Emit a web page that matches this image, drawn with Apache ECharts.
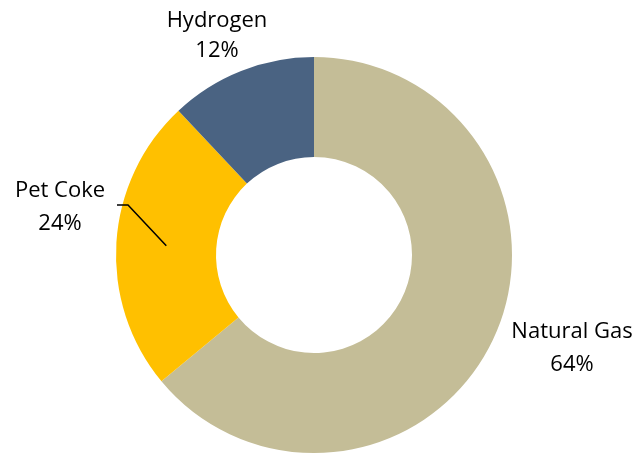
<!DOCTYPE html>
<html>
<head>
<meta charset="utf-8">
<script src="https://cdn.jsdelivr.net/npm/echarts@6/dist/echarts.min.js"></script>
<style>
	html, body { margin: 0; padding: 0; background: #fff; }
	#chart { width: 640px; height: 453px; }
</style>
</head>
<body>
<div id="chart"></div>
<script>
	// fuel mix
	var categories = ['Natural Gas', 'Pet Coke', 'Hydrogen']
	var values = [64, 24, 12]
	var colors = ['#C4BD97', '#FFC000', '#4A6382']

	// where each label sits (center of text block)
	var labelPos = [[572, 348], [60, 207], [217, 36]]

	var cx = 314, cy = 255, r0 = 98, r1 = 198

	var chart = echarts.init(document.getElementById('chart'))

	// mid point of a slice (clockwise from 12 o'clock), halfway through the ring
	function midPoint(idx) {
		var total = values.reduce(function (a, b) { return a + b }, 0)
		var before = 0
		for (var i = 0; i < idx; i++) before += values[i]
		var a = (before + values[idx] / 2) / total * Math.PI * 2
		var rr = (r0 + r1) / 2
		return [cx + Math.sin(a) * rr, cy - Math.cos(a) * rr]
	}

	var baseLabel = {
		show: true,
		position: 'outside',
		fontFamily: 'Open Sans',
		fontSize: 22,
		lineHeight: 33,
		color: '#000',
		align: 'center',
		overflow: 'none',
		width: 220
	}

	var option = {
		animation: false,
		series: [{
			type: 'pie',
			z: 2,
			center: [cx, cy],
			radius: [r0, r1],
			startAngle: 90,
			clockwise: true,
			data: categories.map(function (name, i) {
				return {
					name: name,
					value: values[i],
					itemStyle: { color: colors[i] },
					label: i === 2 ? { lineHeight: 30 } : {}
				}
			}),
			label: Object.assign({ formatter: '{b}\n{d}%' }, baseLabel),
			labelLine: { show: false },
			labelLayout: function (params) {
				var p = labelPos[params.dataIndex]
				return { x: p[0], y: p[1], align: 'center', verticalAlign: 'middle' }
			},
			emphasis: { disabled: true }
		}, {
			// overlay, only carries the leader line for Pet Coke so it sits above the ring
			type: 'pie',
			z: 5,
			center: [cx, cy],
			radius: [r0, r1],
			startAngle: 90,
			clockwise: true,
			silent: true,
			data: categories.map(function (name, i) {
				return {
					name: name,
					value: values[i],
					itemStyle: { color: 'rgba(0,0,0,0)' },
					labelLine: { show: i === 1 },
					label: { show: i === 1 }
				}
			}),
			label: Object.assign({ formatter: ' ' }, baseLabel),
			labelLine: {
				show: true,
				lineStyle: { color: '#000', width: 1.5 }
			},
			labelLayout: function (params) {
				var p = labelPos[params.dataIndex]
				var res = { x: p[0], y: p[1], align: 'center', verticalAlign: 'middle' }
				if (params.dataIndex === 1) {
					res.labelLinePoints = [[117, 205], [128, 205], midPoint(1)]
				}
				return res
			},
			emphasis: { disabled: true }
		}]
	}
	chart.setOption(option)
</script>
</body>
</html>
